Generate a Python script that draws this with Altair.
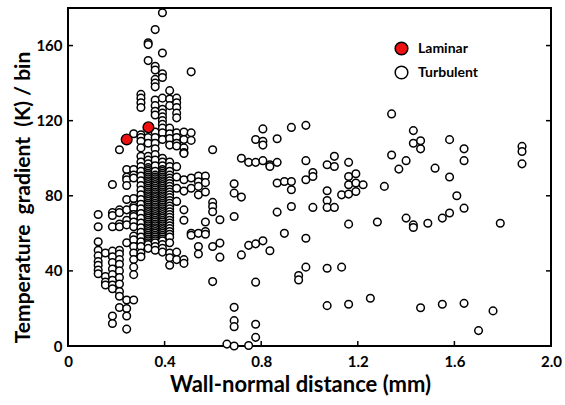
import altair as alt
import pandas as pd

# Wall-normal distance columns (mm) and the temperature gradients (K/bin) read in each column
dist_cols = [0.125, 0.155, 0.184, 0.213, 0.243, 0.272, 0.302, 0.332, 0.361, 0.391,
             0.421, 0.450, 0.480, 0.510, 0.540, 0.569, 0.599, 0.629, 0.658, 0.688,
             0.718, 0.748, 0.777, 0.807, 0.836, 0.866, 0.896, 0.925, 0.955, 0.985,
             1.014, 1.073, 1.103, 1.133, 1.162, 1.192, 1.222, 1.252, 1.281, 1.310,
             1.340, 1.370, 1.400, 1.430, 1.460, 1.490, 1.520, 1.550, 1.580, 1.610,
             1.640, 1.700, 1.760, 1.790, 1.880]
grad_cols = [
    [70, 63.5, 55.5, 51, 48, 45, 43, 40.5, 38.5],
    [49.5, 37, 34, 32.5],
    [86, 71, 69.5, 63.5, 50.5, 47.5, 44.5, 41, 38, 35, 32.5, 30.5, 16, 12],
    [104.5, 72.5, 71, 65, 63.5, 51, 49, 46, 43.5, 40, 36.5, 33, 29, 26.5, 20.5],
    [94, 90, 88.5, 85.5, 78, 72.5, 67, 64.5, 55, 24.5, 20, 16, 9],
    [113, 94, 91, 89.5, 78.5, 74.5, 73.5, 70, 69, 66, 63.5, 58.5, 56.5, 53, 49.5, 46, 42, 38, 24.5],
    [134, 132, 129.5, 127, 112.5, 111, 109, 105.5, 101, 98, 95.5, 93, 90.5, 88, 85.5, 83, 80.5, 78,
     75.5, 73, 70.5, 68, 65.5, 63, 60.5, 58, 55.5, 53, 49.5, 47.5],
    [161.5, 160.5, 152, 111, 108, 101, 99, 97, 95, 94, 93, 92, 91, 90, 89, 88, 87, 86, 85, 84, 83,
     82, 81, 80, 79, 78, 77, 76, 75, 74, 73, 72, 71, 70, 69, 68, 67, 66, 65, 64, 63, 62, 61, 60,
     59, 58, 57, 56, 55, 54, 52],
    [168.5, 149, 147, 142, 140, 138, 131, 128, 125, 123, 114, 111, 108, 105, 102, 99, 96, 93, 91,
     90, 89, 88, 87, 86, 85, 84, 83, 82, 81, 80, 79, 78, 77, 76, 75, 74, 73, 72, 71, 70, 69, 68,
     67, 66, 65, 64, 63, 62, 61, 60, 59, 58, 57, 56, 55, 53, 51],
    [177.5, 156, 145, 143, 132, 126, 124, 122, 120, 118, 116, 113.5, 110, 100, 98, 96, 94, 93, 92,
     91, 90, 89, 88, 87, 86, 85, 84, 83, 82, 81, 80, 79, 78, 77, 76, 75, 74, 73, 72, 71, 70, 69,
     68, 67, 66, 65, 64, 63, 62, 61, 60, 59, 58, 57, 56, 54, 52, 50],
    [136, 131.5, 128, 116, 113, 110.5, 107, 98, 95.5, 93, 91, 89.5, 88, 86.5, 85, 83.5, 82, 80.5,
     79, 77.5, 76, 74.5, 73, 71.5, 70, 68.5, 67, 65.5, 64, 62.5, 61, 59.5, 58, 55, 49.5, 47, 43],
    [132, 129.5, 127, 124, 121.5, 113.5, 111, 108, 106.5, 95.5, 90, 84, 77, 50, 46],
    [114, 110, 105.5, 103, 102.5, 88.5, 82.5, 72.5, 67, 46, 44],
    [146, 113.5, 109.5, 89.5, 84, 60, 59],
    [90.5, 87.5, 85, 80.5, 60, 53, 49],
    [90.5, 87, 82, 66, 61, 59.5],
    [104.5, 76.5, 74.3, 71.5, 53, 34.3],
    [67.2, 54.8, 47.3],
    [1],
    [86.4, 81.4, 69, 20.6, 13.5, 10.3, 0],
    [100, 79.3, 48.5],
    [97.8, 53.6, 0.3],
    [110, 97.8, 54.4, 34, 11.6, 4.6],
    [115.6, 109, 107, 98.7, 56],
    [96.5, 95.6, 50.7],
    [110.4, 97.8, 86.8, 71.3],
    [87.6, 60],
    [116.4, 87.6, 83.2, 74.3],
    [37.5, 35.2],
    [117.5, 98.7, 88.5, 57.4, 42],
    [92.4, 90.3, 73.8],
    [96.5, 82.7, 77.5, 73.8, 41.4, 21.5],
    [101, 95.6, 73.8],
    [80.5, 42],
    [97.8, 90.3, 85.9, 80.9, 64.9, 22.2],
    [91.7, 86.8, 82.3],
    [85.9],
    [25.4],
    [66],
    [85],
    [123.6, 101.7],
    [94.2],
    [98.7, 68.1],
    [114.7, 108, 64.5, 63.1],
    [109.3, 105, 20.4],
    [65.4],
    [94.7],
    [68.1, 22.2],
    [109.9, 90, 70.8],
    [80],
    [105, 98.7, 73.4, 22.7],
    [8.2],
    [18.7],
    [65.4],
    [106.3, 103.6, 97],
]

laminar_dist = [0.243, 0.333]
laminar_grad = [110, 116.5]

x_ticks = [0.4, 0.8, 1.2, 1.6]
y_ticks = [40, 80, 120, 160]
x_labels = [0, 0.4, 0.8, 1.2, 1.6, 2.0]
y_labels = [0, 40, 80, 120, 160]

rows = []
for d, ys in zip(dist_cols, grad_cols):
    for g in ys:
        rows.append({"dist": d, "grad": g, "series": "Turbulent"})
turb = pd.DataFrame(rows)
lam = pd.DataFrame({"dist": laminar_dist, "grad": laminar_grad, "series": ["Laminar"] * 2})

W, H = 483, 338
FONT = "Lato"

xscale = alt.Scale(domain=[0, 2.0], nice=False, zero=False)
yscale = alt.Scale(domain=[0, 180], nice=False, zero=False)
fill_scale = alt.Scale(domain=["Laminar", "Turbulent"], range=["#ee1111", "white"])

x_axis = alt.Axis(values=x_labels, labelExpr="datum.value == 0 ? '0' : format(datum.value, '.1f')",
                  domain=False, ticks=False, grid=False, labelPadding=8, labelFlush=False,
                  labelFont=FONT, labelFontSize=15, labelFontWeight="bold", labelColor="black",
                  title="Wall-normal distance (mm)", titleFont=FONT, titleFontSize=22,
                  titleFontWeight="bold", titleColor="black",
                  titleX=232, titleY=38, titleAnchor="middle", titleAlign="center",
                  titleBaseline="middle")
y_axis = alt.Axis(values=y_labels, domain=False, ticks=False, grid=False, labelPadding=6,
                  labelFlush=False,
                  labelFont=FONT, labelFontSize=15, labelFontWeight="bold", labelColor="black",
                  title="Temperature\u00a0 gradient\u00a0 (K) / bin", titleFont=FONT, titleFontSize=21,
                  titleFontWeight="bold", titleColor="black", titleAngle=-90,
                  titleX=-45, titleY=189, titleAlign="center", titleBaseline="middle")

legend = alt.Legend(title=None, orient="none", legendX=326, legendY=33,
                    symbolType="circle", symbolSize=160, symbolStrokeColor="black",
                    symbolStrokeWidth=1.5, symbolOpacity=1, rowPadding=5,
                    labelFont=FONT, labelFontSize=14, labelFontWeight="bold",
                    labelColor="black", labelOffset=9, padding=0)

xt = pd.DataFrame({"dist": x_ticks})
yt = pd.DataFrame({"grad": y_ticks})

turb_layer = alt.Chart(turb).mark_point(
    filled=True, shape="circle", size=58, stroke="black", strokeWidth=1.5, opacity=1
).encode(
    x=alt.X("dist:Q", scale=xscale, axis=x_axis),
    y=alt.Y("grad:Q", scale=yscale, axis=y_axis),
    fill=alt.Fill("series:N", scale=fill_scale, legend=legend),
)

lam_layer = alt.Chart(lam).mark_point(
    filled=True, shape="circle", size=115, stroke="black", strokeWidth=1.4, opacity=1
).encode(
    x=alt.X("dist:Q"),
    y=alt.Y("grad:Q"),
    fill=alt.Fill("series:N"),
)

tick_bottom = alt.Chart(xt).mark_rule(color="black", strokeWidth=1.5).encode(
    x=alt.X("dist:Q"), y=alt.value(H), y2=alt.value(H - 5))
tick_left = alt.Chart(yt).mark_rule(color="black", strokeWidth=1.5).encode(
    y=alt.Y("grad:Q"), x=alt.value(0), x2=alt.value(5))
tick_right = alt.Chart(yt).mark_rule(color="black", strokeWidth=1.5).encode(
    y=alt.Y("grad:Q"), x=alt.value(W), x2=alt.value(W - 5))

chart = alt.layer(turb_layer, lam_layer, tick_bottom, tick_left, tick_right).properties(
    width=W, height=H,
    autosize=alt.AutoSizeParams(type="none"),
    padding={"left": 68, "top": 8, "right": 14, "bottom": 59},
    background="white",
).configure_view(stroke="black", strokeWidth=2)

chart.save("out.html", embed_options={"renderer": "svg", "actions": False})
